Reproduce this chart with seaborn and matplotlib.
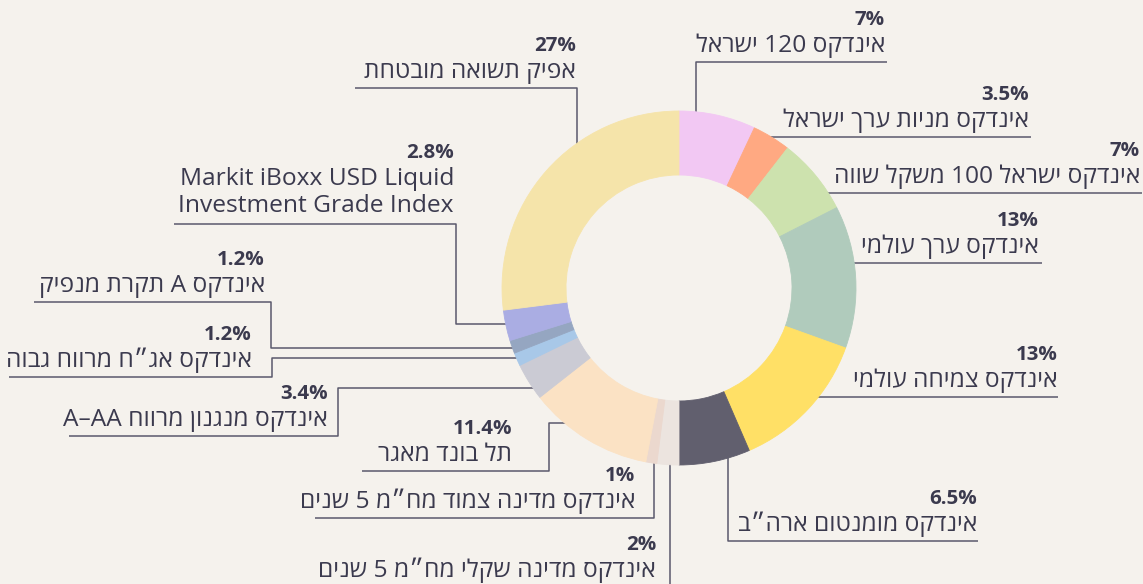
import matplotlib
matplotlib.use("Agg")
import matplotlib.pyplot as plt
import seaborn as sns
import numpy as np

# ---------------- data ----------------
names = [
    "אינדקס 120 ישראל",
    "אינדקס מניות ערך ישראל",
    "אינדקס ישראל 100 משקל שווה",
    "אינדקס ערך עולמי",
    "אינדקס צמיחה עולמי",
    "אינדקס מומנטום ארה״ב",
    "אינדקס מדינה שקלי מח״מ 5 שנים",
    "אינדקס מדינה צמוד מח״מ 5 שנים",
    "תל בונד מאגר",
    "אינדקס מנגנון מרווח A–AA",
    "אינדקס אג״ח מרווח גבוה",
    "אינדקס A תקרת מנפיק",
    "Markit iBoxx USD Liquid\nInvestment Grade Index",
    "אפיק תשואה מובטחת",
]
values = [7, 3.5, 7, 13, 13, 6.5, 2, 1, 11.4, 3.4, 1.2, 1.2, 2.8, 27]
colors = [
    "#F2C8F3", "#FFA982", "#CDE2AE", "#B0CBBC", "#FFE066", "#615F6E",
    "#ECE4DF", "#EBD8CE", "#FBE2C4", "#CBCBD4", "#A8C8E8", "#95A6C1",
    "#AAADE3", "#F5E4AA",
]

# ---------------- style ----------------
BG = "#F5F2ED"
TXT = "#3B3A4E"
LINE = "#5A596C"
W, H = 1143, 584
CX, CY, R, RING = 679, 288, 177, 64

sns.set_theme(style="white", rc={"figure.facecolor": BG, "axes.facecolor": BG})
plt.rcParams["font.family"] = ["Open Sans", "Liberation Sans", "DejaVu Sans"]


def visual(s):
    """Convert logical-order Hebrew text to visual (LTR display) order."""
    def kind(c):
        if "\u0590" <= c <= "\u05FF":
            return "R"
        if c.isascii() and c.isalnum():
            return "L"
        return "N"
    kinds = [kind(c) for c in s]
    res = kinds[:]
    n = len(s)
    i = 0
    while i < n:
        if kinds[i] == "N":
            j = i
            while j < n and kinds[j] == "N":
                j += 1
            left = kinds[i - 1] if i > 0 else "R"
            right = kinds[j] if j < n else "R"
            t = "L" if (left == "L" and right == "L") else "R"
            for k in range(i, j):
                res[k] = t
            i = j
        else:
            i += 1
    if "R" not in res:
        return s
    runs = []
    for c, t in zip(s, res):
        if runs and runs[-1][0] == t:
            runs[-1][1].append(c)
        else:
            runs.append([t, [c]])
    out = ""
    for t, chars in reversed(runs):
        out += "".join(reversed(chars)) if t == "R" else "".join(chars)
    return out


def ring_y(x, upper):
    r = R - 6
    d = np.sqrt(max(r * r - (x - CX) ** 2, 0))
    return CY - d if upper else CY + d


def ring_x(y, left):
    r = R - 6
    d = np.sqrt(max(r * r - (y - CY) ** 2, 0))
    return CX - d if left else CX + d


# layout: text right edge, text anchor y (underline y), leader path (pixel coords, y down)
layout = [
    (885, 62, [(887, 62), (696, 62), (696, ring_y(696, True))]),
    (1029, 137, [(1031, 137), (ring_x(137, False), 137)]),
    (1140, 193, [(1142, 193), (ring_x(193, False), 193)]),
    (1039, 263, [(1042, 263), (ring_x(263, False), 263)]),
    (1058, 397, [(1058, 397), (ring_x(397, False), 397)]),
    (977, 541, [(978, 541), (728, 541), (728, ring_y(728, False))]),
    (656, 587, [(670, 600), (670, ring_y(670, False))]),
    (635, 518, [(315, 518), (654, 518), (654, ring_y(654, False))]),
    (512, 471, [(362, 471), (549, 471), (549, 423), (ring_x(423, True), 423)]),
    (328, 436, [(69, 436), (338, 436), (338, 388), (ring_x(388, True), 388)]),
    (252, 377, [(9, 377), (272, 377), (272, 358), (ring_x(358, True), 358)]),
    (265, 302, [(34, 302), (271, 302), (271, 348), (ring_x(348, True), 348)]),
    (454, 224, [(174, 224), (456, 224), (456, 324), (ring_x(324, True), 324)]),
    (576, 88, [(355, 88), (577, 88), (577, ring_y(577, True))]),
]

fig = plt.figure(figsize=(W / 100, H / 100), dpi=100)
ax = fig.add_axes([0, 0, 1, 1])
ax.set_facecolor(BG)

palette = sns.color_palette(colors)
ax.pie(values, colors=palette, startangle=90, counterclock=False,
       radius=R, center=(CX, H - CY),
       wedgeprops=dict(width=RING, linewidth=0.6, zorder=3),
       frame=True)
for w, c in zip(ax.patches, palette):
    w.set_edgecolor(c)

PCT_PT = 20.5 * 0.72
NAME_PT = 24.5 * 0.72

for name, val, (xr, ly, path) in zip(names, values, layout):
    xs = [p[0] for p in path]
    ys = [H - p[1] for p in path]
    ax.plot(xs, ys, color=LINE, lw=1.1, zorder=1, solid_capstyle="butt")
    lines = name.split("\n")
    nl = len(lines)
    base = ly - 10 if nl == 1 else ly - 12
    for k, line in enumerate(lines):
        b = base - 27 * (nl - 1 - k)
        ax.text(xr, H - b, visual(line), ha="right", va="baseline",
                fontsize=NAME_PT, color=TXT, zorder=4)
    pb = base - 27 * nl
    ax.text(xr, H - pb, f"{val:g}%", ha="right", va="baseline",
            fontsize=PCT_PT, fontweight="bold", color=TXT, zorder=4)

ax.set_xlim(0, W)
ax.set_ylim(0, H)
ax.set_aspect("auto")
ax.axis("off")

fig.savefig("out.png", dpi=100, facecolor=BG)
